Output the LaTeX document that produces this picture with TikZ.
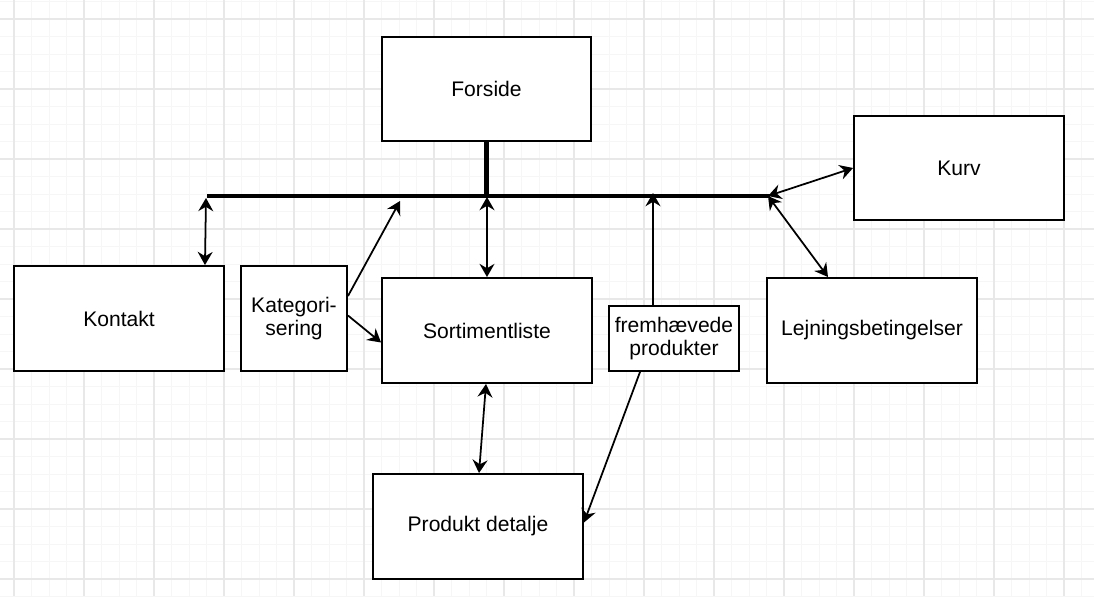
\documentclass[tikz,border=0pt]{standalone}
\usepackage{fontspec}
\setmainfont{Liberation Sans}
\usepackage{tikz}
\usetikzlibrary{arrows.meta}

\tikzset{
  page/.style={draw=black,line width=1.1pt,fill=white,inner sep=0pt,align=center,
    font=\fontsize{12}{13.6}\selectfont},
  link/.style={line width=1pt,-{Stealth[length=7.5pt,width=8.5pt,inset=2.5pt]}},
  twoway/.style={line width=1pt,{Stealth[length=7.5pt,width=8.5pt,inset=2.5pt]}-{Stealth[length=7.5pt,width=8.5pt,inset=2.5pt]}},
  bus/.style={line width=2.3pt},
  minorline/.style={color=black!3.5,line width=0.5pt},
  majorline/.style={color=black!9,line width=0.6pt}
}

\begin{document}
\begin{tikzpicture}[x=0.02cm,y=-0.02cm]
      \useasboundingbox (0,0) rectangle (1094,596);
      % grid
      \foreach \i in {-1,...,61} \draw[minorline] ({14+17.5*\i},0) -- ({14+17.5*\i},596);
      \foreach \j in {-1,...,33} \draw[minorline] (0,{19+17.5*\j}) -- (1094,{19+17.5*\j});
      \foreach \i in {0,...,15} \draw[majorline] ({14+70*\i},0) -- ({14+70*\i},596);
      \foreach \j in {0,...,8} \draw[majorline] (0,{19+70*\j}) -- (1094,{19+70*\j});
      % pages
      \node [page,minimum width=4.18cm,minimum height=2.08cm] (forside) at (486.5,89) {Forside};
      \node [page,minimum width=4.2cm,minimum height=2.08cm] (kurv) at (959,168) {Kurv};
      \node [page,minimum width=4.2cm,minimum height=2.1cm] (kontakt) at (119,318.5) {Kontakt};
      \node [page,minimum width=2.12cm,minimum height=2.1cm] (kategori) at (294,318.5) {Kategori-\\sering};
      \node [page,minimum width=4.2cm,minimum height=2.1cm] (sortiment) at (487,330.5) {Sortimentliste};
      \node [page,minimum width=2.6cm,minimum height=1.3cm] (fremhaevet) at (674,338.5) {fremhævede\\produkter};
      \node [page,minimum width=4.2cm,minimum height=2.1cm] (lejning) at (872,330.5) {Lejningsbetingelser};
      \node [page,minimum width=4.2cm,minimum height=2.1cm] (produkt) at (478,526.5) {Produkt detalje};
      % bus
      \coordinate (busL) at (207,196);
      \coordinate (busR) at (770,196);
      \draw [bus] (busL) -- (busR);
      \draw [bus] (forside.south) -- (forside.south |- busL);
      % connectors
      \coordinate (kontaktTop) at (206,198);
      \coordinate (kategoriTop) at (400,201);
      \coordinate (sortimentTop) at (487,197);
      \coordinate (fremTop) at (653,193);
      \coordinate (hoejre) at (768,196);
      \draw [twoway] (kontaktTop) -- ([xshift=-0.4cm]kontakt.north east);
      \draw [link] ([yshift=-0.62cm]kategori.north east) -- (kategoriTop);
      \draw [link] ([yshift=0.06cm]kategori.east) -- ([yshift=-0.24cm]sortiment.west);
      \draw [twoway] (sortimentTop) -- (sortiment.north);
      \draw [link] ([xshift=-0.42cm]fremhaevet.north) -- (fremTop);
      \draw [link] ([xshift=-0.68cm]fremhaevet.south) -- ([yshift=0.08cm]produkt.east);
      \draw [twoway] (hoejre) -- (kurv.west);
      \draw [twoway] (hoejre) -- ([xshift=-0.88cm]lejning.north);
      \draw [twoway] ([xshift=-0.02cm]sortiment.south) -- ([xshift=0.02cm]produkt.north);
\end{tikzpicture}
\end{document}
